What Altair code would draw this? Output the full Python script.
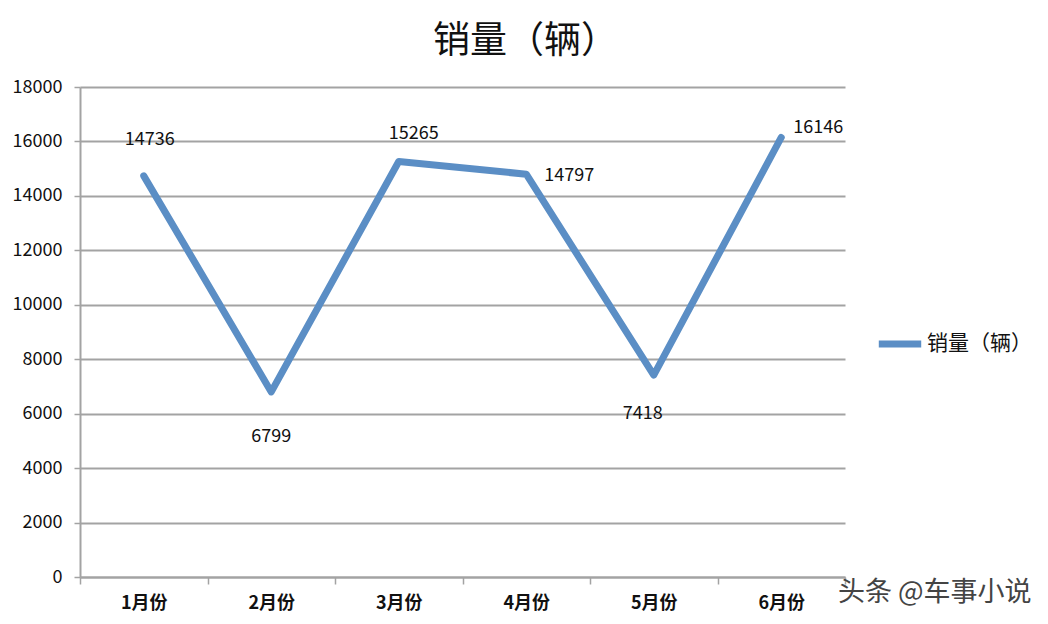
import altair as alt
import pandas as pd

months = ["1月份", "2月份", "3月份", "4月份", "5月份", "6月份"]
sales = [14736, 6799, 15265, 14797, 7418, 16146]
series_name = "销量（辆）"

df = pd.DataFrame({"month": months, "sales": sales, "series": series_name})

FONT = "Noto Sans CJK SC"
LINE = "#5b8ec5"
GRID = "#a3a3a3"

base = alt.Chart(df).encode(
    x=alt.X(
        "month:N",
        sort=months,
        scale=alt.Scale(type="band", paddingInner=0, paddingOuter=0),
        axis=alt.Axis(
            title=None, labelAngle=0, tickBand="extent", tickSize=7,
            tickColor=GRID, tickWidth=1.5, domainColor=GRID, domainWidth=2,
            labelFontSize=18, labelFontWeight="bold", labelPadding=10,
            labelColor="#111", grid=False,
        ),
    ),
    y=alt.Y(
        "sales:Q",
        scale=alt.Scale(domain=[0, 18000], nice=False),
        axis=alt.Axis(
            title=None, values=list(range(0, 18001, 2000)), format="d",
            tickSize=6, tickColor=GRID, tickWidth=1.5, domainColor=GRID,
            domainWidth=2, gridColor=GRID, gridWidth=2, labelFontSize=18,
            labelPadding=12, labelColor="#111",
        ),
    ),
)

line = base.mark_line(strokeWidth=7, strokeCap="round", strokeJoin="round").encode(
    color=alt.Color(
        "series:N",
        scale=alt.Scale(range=[LINE]),
        legend=alt.Legend(
            title=None, orient="none", legendX=795, legendY=232,
            symbolType="stroke", symbolStrokeWidth=7, symbolSize=1800,
            labelFontSize=21, labelFont=FONT, labelColor="#111", labelOffset=2,
        ),
    )
)


def labels(which, **offsets):
    return base.mark_text(fontSize=18, font=FONT, color="#111", **offsets).encode(
        text="sales:Q"
    ).transform_filter(alt.FieldOneOfPredicate(field="month", oneOf=which))


lbl_jan = labels(["1月份"], dx=6, dy=-36)
lbl_mar = labels(["3月份"], dx=15, dy=-27)
lbl_feb = labels(["2月份"], dy=45)
lbl_may = labels(["5月份"], dx=-11, dy=39)
lbl_apr = labels(["4月份"], dx=18, dy=2, align="left")
lbl_jun = labels(["6月份"], dx=12, dy=-9, align="left")

mark_note = alt.Chart(pd.DataFrame({"t": ["头条 @车事小说"]})).mark_text(
    align="left", baseline="middle", fontSize=27, font=FONT, color="#444"
).encode(x=alt.value(758), y=alt.value(506), text="t:N")

chart = (
    alt.layer(line, lbl_jan, lbl_mar, lbl_feb, lbl_may, lbl_apr, lbl_jun, mark_note)
    .properties(
        width=765,
        height=490,
        autosize=alt.AutoSizeParams(type="none"),
        padding={"left": 72, "top": 79, "right": 195, "bottom": 38},
        title=alt.TitleParams(
            series_name, fontSize=37, font=FONT, fontWeight="normal",
            color="#111", dx=63, offset=17,
        ),
    )
    .configure_view(stroke=None)
    .configure_axis(labelFont=FONT)
)

chart.save("out.html", embed_options={"renderer": "svg", "actions": False})
